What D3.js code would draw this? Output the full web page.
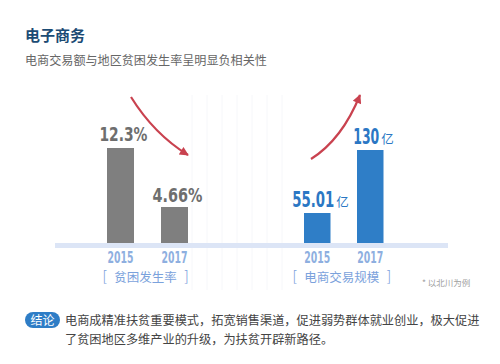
<!DOCTYPE html>
<html><head><meta charset="utf-8">
<script src="https://cdn.jsdelivr.net/npm/d3@7/dist/d3.min.js"></script>
<style>html,body{margin:0;padding:0;background:#fff;}svg{display:block;}</style>
</head><body><svg id="c" width="500" height="364"></svg>
<script>
const title = "电子商务";
const subtitle = "电商交易额与地区贫困发生率呈明显负相关性";
const years = ["2015", "2017"];
const povertyRate = [12.3, 4.66];
const povertyLabels = ["12.3%", "4.66%"];
const ecommerce = [55.01, 130];
const ecommerceLabels = ["55.01", "130"];
const unit = "亿";
const groupNames = ["贫困发生率", "电商交易规模"];
const footnote = "* 以北川为例";
const tagText = "结论";
const bodyLines = ["电商成精准扶贫重要模式，拓宽销售渠道，促进弱势群体就业创业，极大促进",
                   "了贫困地区多维产业的升级，为扶贫开辟新路径。"];

const svg = d3.select("#c");
const cjk = "'Noto Sans CJK SC','Noto Sans',sans-serif";
const num = "'DejaVu Sans Condensed','DejaVu Sans',sans-serif";
const baseY = 243;

// condensed text: place with left edge at x, baseline y, squeezed to width w
function squeezed(parent, str, x, y, w, size, color) {
  const t = parent.append("text").text(str)
    .attr("font-family", num).attr("font-weight", 700).attr("font-size", size).attr("fill", color);
  const nat = t.node().getComputedTextLength();
  t.attr("transform", `translate(${x},${y}) scale(${w / nat},1)`);
  return t;
}

// faint background grid
const grid = d3.range(192, 290, 15);
svg.append("g").selectAll("line").data(grid).join("line")
  .attr("x1", d => d).attr("x2", d => d).attr("y1", 95).attr("y2", 290)
  .attr("stroke", "#f6f7fa").attr("stroke-width", 1);

svg.append("text").attr("x", 25).attr("y", 41).text(title)
  .attr("font-family", cjk).attr("font-weight", 700).attr("font-size", 15).attr("fill", "#1c4b74");
svg.append("text").attr("x", 25).attr("y", 65).text(subtitle)
  .attr("font-family", cjk).attr("font-size", 12.1).attr("fill", "#666");

// scales
const xL = d3.scaleBand().domain(years).range([93.5, 201.5]).paddingInner(0.5).paddingOuter(0.25);
const xR = d3.scaleBand().domain(years).range([290.75, 396.75]).paddingInner(0.5).paddingOuter(0.25);
const yL = d3.scaleLinear().domain([0, 12.3]).range([baseY, 148]);
const yR = d3.scaleLinear().domain([19.3, 130]).range([baseY, 150]);

// axis band
svg.append("rect").attr("x", 55).attr("y", baseY).attr("width", 393).attr("height", 5).attr("fill", "#dce5f6");

// bars
svg.append("g").selectAll("rect").data(povertyRate).join("rect")
  .attr("x", (d, i) => xL(years[i])).attr("width", xL.bandwidth())
  .attr("y", d => yL(d)).attr("height", d => baseY - yL(d)).attr("fill", "#7f7f7f");
svg.append("g").selectAll("rect").data(ecommerce).join("rect")
  .attr("x", (d, i) => xR(years[i])).attr("width", xR.bandwidth())
  .attr("y", d => yR(d)).attr("height", d => baseY - yR(d)).attr("fill", "#2f7ec7");

// value labels left
const lw = [48, 50];
const lg = svg.append("g");
povertyRate.forEach((d, i) => {
  const cx = xL(years[i]) + xL.bandwidth() / 2 + 3;
  squeezed(lg, povertyLabels[i], cx - lw[i] / 2, yL(d) - (i === 0 ? 7 : 5), lw[i], 19.5, "#6e6e6e");
});

// value labels right
const rw = [42, 26];
const rg = svg.append("g");
ecommerce.forEach((d, i) => {
  const cx = xR(years[i]) + xR.bandwidth() / 2;
  const x0 = cx - (rw[i] + 14) / 2 + 3;
  const by = yR(d) - 6;
  squeezed(rg, ecommerceLabels[i], x0, by, rw[i], 20.5, "#2b77c4");
  rg.append("text").attr("x", x0 + rw[i] + 2).attr("y", by).text(unit)
    .attr("font-family", cjk).attr("font-size", 12.5).attr("fill", "#2b77c4");
});

// year labels
[xL, xR].forEach(x => {
  const g = svg.append("g");
  years.forEach(yv => squeezed(g, yv, x(yv) + x.bandwidth() / 2 - 13, 263, 26, 15, "#8eafe0"));
});

// group names
const gc = [(xL(years[0]) + xL(years[1]) + xL.bandwidth()) / 2 - 2, (xR(years[0]) + xR(years[1]) + xR.bandwidth()) / 2 - 2];
groupNames.forEach((n, i) => {
  const t = svg.append("text").attr("x", gc[i]).attr("y", 282).attr("text-anchor", "middle")
    .attr("font-family", cjk).attr("font-size", 12.5).attr("fill", "#7ba2dc");
  t.append("tspan").attr("font-size", 15).attr("font-family", "'DejaVu Sans',sans-serif").attr("font-weight", 300).text("[");
  t.append("tspan").text("\u2002" + n + "\u2002");
  t.append("tspan").attr("font-size", 15).attr("font-family", "'DejaVu Sans',sans-serif").attr("font-weight", 300).text("]");
});

svg.append("text").attr("x", 422).attr("y", 286).text(footnote)
  .attr("font-family", cjk).attr("font-size", 8.5).attr("fill", "#a0a0a0");

// arrows
const defs = svg.append("defs");
defs.append("marker").attr("id", "ah").attr("viewBox", "0 0 10 10").attr("refX", 9).attr("refY", 5)
  .attr("markerWidth", 11).attr("markerHeight", 9).attr("markerUnits", "userSpaceOnUse").attr("orient", "auto")
  .append("path").attr("d", "M0,0 L10,5 L0,10 Z").attr("fill", "#c9424f");
const p1 = d3.path(); p1.moveTo(131, 97); p1.quadraticCurveTo(154, 134, 188, 155);
const p2 = d3.path(); p2.moveTo(311, 159); p2.quadraticCurveTo(342, 139.5, 360, 95);
[p1, p2].forEach(p => svg.append("path").attr("d", p.toString()).attr("fill", "none")
  .attr("stroke", "#c9424f").attr("stroke-width", 2.2).attr("marker-end", "url(#ah)"));

// conclusion
svg.append("rect").attr("x", 25).attr("y", 312).attr("width", 35).attr("height", 16).attr("rx", 8).attr("fill", "#2e7dc6");
svg.append("text").attr("x", 42.5).attr("y", 324.5).attr("text-anchor", "middle").text(tagText)
  .attr("font-family", cjk).attr("font-size", 12).attr("fill", "#fff");
svg.append("g").selectAll("text").data(bodyLines).join("text")
  .attr("x", 65).attr("y", (d, i) => 324.5 + i * 19.5).text(d => d)
  .attr("font-family", cjk).attr("font-size", 12.2).attr("fill", "#444");
</script></body></html>
